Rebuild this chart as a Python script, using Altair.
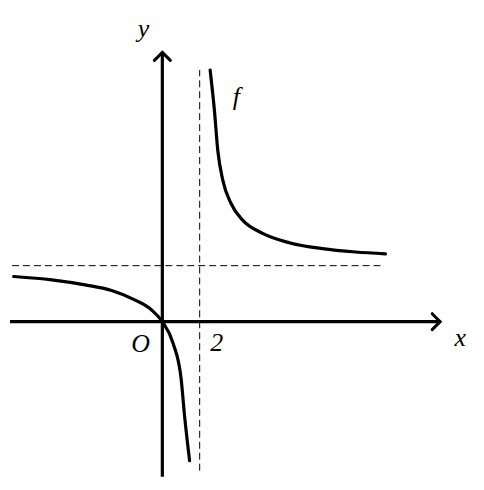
import altair as alt
import pandas as pd

# Curve f (left/lower branch and right/upper branch)
left_x = [-7.96, -5.92, -4.14, -2.72, -1.48, -0.59, 0.0, 0.57, 1.01, 1.19, 1.46]
left_y = [2.42, 2.24, 1.97, 1.67, 1.17, 0.64, 0.0, -1.14, -3.09, -5.05, -7.45]
right_x = [2.56, 2.79, 2.97, 3.24, 3.68, 4.30, 5.37, 6.79, 8.57, 10.35, 11.95]
right_y = [13.48, 11.31, 9.17, 7.57, 6.33, 5.44, 4.73, 4.23, 3.91, 3.73, 3.63]

# Asymptotes
v_asym_x = 2
v_asym_span = [-7.98, 13.48]
h_asym_y = 3
h_asym_span = [-8.05, 11.68]

# Axes extents
x_axis_span = [-8.16, 14.88]
y_axis_span = [-8.3, 14.42]

# Labels
label_text = ["y", "x", "O", "2", "f"]
label_x = [-1.01, 15.95, -1.17, 2.91, 3.97]
label_y = [15.25, -1.28, -1.6, -1.55, 11.63]

XDOM = [-8.16, 16.8]
YDOM = [-8.32, 16.747]

curve = pd.DataFrame({
    "x": left_x + right_x,
    "y": left_y + right_y,
    "branch": ["left"] * len(left_x) + ["right"] * len(right_x),
    "i": list(range(len(left_x))) + list(range(len(right_x))),
})

xs = alt.Scale(domain=XDOM, nice=False, zero=False)
ys = alt.Scale(domain=YDOM, nice=False, zero=False)

lines = alt.Chart(curve).mark_line(
    color="black", strokeWidth=3.2, strokeCap="round", strokeJoin="round", interpolate="monotone"
).encode(
    x=alt.X("x:Q", scale=xs, axis=None),
    y=alt.Y("y:Q", scale=ys, axis=None),
    detail="branch:N",
    order="i:Q",
)

hline = alt.Chart(pd.DataFrame({"x": [h_asym_span[0]], "x2": [h_asym_span[1]], "y": [h_asym_y]})).mark_rule(
    color="black", strokeWidth=1, strokeDash=[7, 4]
).encode(x=alt.X("x:Q", scale=xs, axis=None), x2="x2:Q", y=alt.Y("y:Q", scale=ys, axis=None))

vline = alt.Chart(pd.DataFrame({"y": [v_asym_span[0]], "y2": [v_asym_span[1]], "x": [v_asym_x]})).mark_rule(
    color="black", strokeWidth=1, strokeDash=[7, 4]
).encode(y=alt.Y("y:Q", scale=ys, axis=None), y2="y2:Q", x=alt.X("x:Q", scale=xs, axis=None))

xaxis = alt.Chart(pd.DataFrame({"x": [x_axis_span[0]], "x2": [x_axis_span[1]], "y": [0]})).mark_rule(
    color="black", strokeWidth=3.2
).encode(x=alt.X("x:Q", scale=xs, axis=None), x2="x2:Q", y=alt.Y("y:Q", scale=ys, axis=None))

yaxis = alt.Chart(pd.DataFrame({"y": [y_axis_span[0]], "y2": [y_axis_span[1]], "x": [0]})).mark_rule(
    color="black", strokeWidth=3.2
).encode(y=alt.Y("y:Q", scale=ys, axis=None), y2="y2:Q", x=alt.X("x:Q", scale=xs, axis=None))

xarrow = alt.Chart(pd.DataFrame({"x": [x_axis_span[1]], "y": [0]})).mark_point(
    shape="M-1,-1L0,0L-1,1", size=256, filled=False, stroke="black", strokeWidth=3, opacity=1,
    strokeCap="round", strokeJoin="miter"
).encode(x=alt.X("x:Q", scale=xs, axis=None), y=alt.Y("y:Q", scale=ys, axis=None))

yarrow = alt.Chart(pd.DataFrame({"x": [0], "y": [y_axis_span[1]]})).mark_point(
    shape="M-1,1L0,0L1,1", size=256, filled=False, stroke="black", strokeWidth=3, opacity=1,
    strokeCap="round", strokeJoin="miter"
).encode(x=alt.X("x:Q", scale=xs, axis=None), y=alt.Y("y:Q", scale=ys, axis=None))

labels = alt.Chart(pd.DataFrame({"t": label_text, "x": label_x, "y": label_y})).mark_text(
    font="Liberation Serif", fontStyle="italic", fontSize=26, color="black", align="center", baseline="alphabetic"
).encode(x=alt.X("x:Q", scale=xs, axis=None), y=alt.Y("y:Q", scale=ys, axis=None), text="t:N")

chart = alt.layer(hline, vline, xaxis, yaxis, lines, xarrow, yarrow, labels).properties(
    width=468, height=470, padding=0
).configure_view(stroke=None)

chart.save("out.html", embed_options={"renderer": "svg", "actions": False})
